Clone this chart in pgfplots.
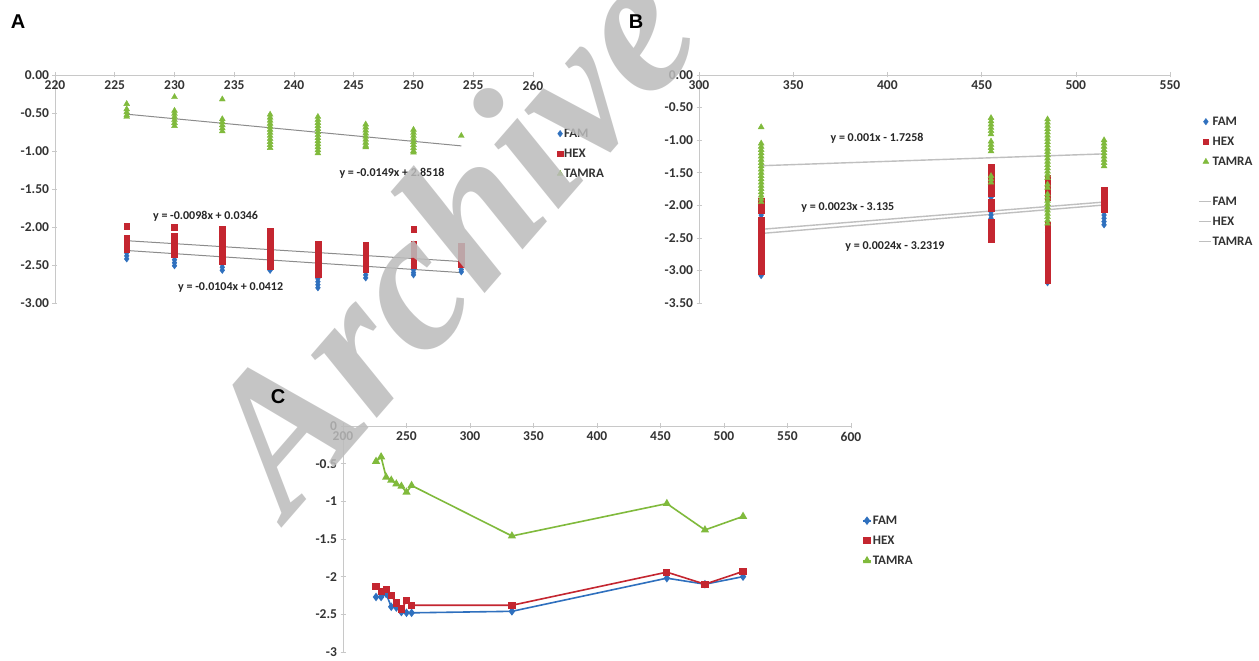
\documentclass[border=0pt]{standalone}
\usepackage{fontspec}
\setmainfont{Carlito}
\newfontfamily\arialfont{Liberation Sans}
\newfontfamily\wmfont{Liberation Serif}
\usepackage{pgfplots}
\pgfplotsset{compat=1.18}
\definecolor{famc}{RGB}{47,112,190}
\definecolor{hexc}{RGB}{196,38,48}
\definecolor{tamc}{RGB}{128,186,60}
\definecolor{axc}{RGB}{200,200,200}
\definecolor{wmc}{RGB}{188,188,188}
\newcommand{\lblfont}{\fontsize{13.5}{13.5}\selectfont\bfseries}
\newcommand{\legfont}{\fontsize{13}{13}\selectfont\bfseries}
\newcommand{\eqfont}{\fontsize{12}{12}\selectfont\bfseries}
\tikzset{eqn/.style={font=\eqfont, text=black!85}}
\pgfplotsset{
  excel/.style={
    scale only axis, anchor=south west,
    axis x line=middle, axis y line=left,
    axis line style={-, draw=axc, line width=0.8pt},
    every inner x axis line/.append style={-},
    every outer y axis line/.append style={-},
    hide obscured x ticks=false, hide obscured y ticks=false,
    tick style={draw=axc, line width=0.6pt},
    tick align=center, major tick length=5pt,
    ticklabel style={font=\lblfont, text=black!80},
    /pgf/number format/assume math mode=true,
    clip=false,
    legend style={draw=none, fill=none, inner sep=0pt, font=\legfont, text=black!80,
      row sep=7pt, nodes={inner sep=1pt, text height=9pt, text depth=2pt}},
    legend cell align=left,
    legend image code/.code={\draw[mark repeat=2,mark phase=2,##1] plot coordinates {(0pt,0pt) (4pt,0pt) (8pt,0pt)};},
  },
  famm/.style={only marks, mark=diamond*, mark size=3.2pt, color=famc},
  hexm/.style={only marks, mark=square*, mark size=2.8pt, color=hexc},
  tamm/.style={only marks, mark=triangle*, mark size=3.4pt, color=tamc},
  trendA/.style={draw=black!45, line width=1pt, mark=none, forget plot},
  trendB/.style={draw=black!25, line width=1.4pt, mark=none,
    legend image code/.code={\draw[##1] (-3pt,0pt) -- (9pt,0pt);}},
}
\begin{document}
\begin{tikzpicture}
\useasboundingbox (0pt,0pt) rectangle (1259pt,661pt);
\clip (0pt,0pt) rectangle (1259pt,661pt);
\fill[white] (0pt,0pt) rectangle (1259pt,661pt);

% ---------------- Panel A ----------------
\begin{axis}[excel, at={(55pt,358pt)}, width=478pt, height=228pt,
  xmin=220, xmax=260, xtick={220,225,...,260},
  ymin=-3, ymax=0, ytick={-3,-2.5,...,0},
  yticklabel style={/pgf/number format/.cd, fixed, fixed zerofill, precision=2},
  legend style={at={(1.0502,0.772)}, anchor=north west}]
\addplot[famm] coordinates {
(226,-2.30)(226,-2.34)(226,-2.38)(226,-2.42)
(230,-2.35)(230,-2.39)(230,-2.43)(230,-2.47)(230,-2.51)
(234,-2.45)(234,-2.49)(234,-2.53)(234,-2.57)
(238,-2.50)(238,-2.54)(238,-2.57)
(242,-2.60)(242,-2.64)(242,-2.68)(242,-2.72)(242,-2.76)(242,-2.80)
(246,-2.55)(246,-2.59)(246,-2.63)(246,-2.67)
(250,-2.48)(250,-2.52)(250,-2.56)(250,-2.60)(250,-2.63)
(254,-2.56)(254,-2.59)};
\addlegendentry{FAM}
\addplot[hexm] coordinates {
(226,-1.99)(226,-2.15)(226,-2.19)(226,-2.23)(226,-2.27)(226,-2.30)
(230,-2.00)(230,-2.12)(230,-2.16)(230,-2.20)(230,-2.24)(230,-2.28)(230,-2.32)(230,-2.36)
(234,-2.02)(234,-2.06)(234,-2.10)(234,-2.14)(234,-2.18)(234,-2.22)(234,-2.26)(234,-2.30)(234,-2.34)(234,-2.38)(234,-2.42)(234,-2.45)
(238,-2.05)(238,-2.09)(238,-2.13)(238,-2.17)(238,-2.21)(238,-2.25)(238,-2.29)(238,-2.33)(238,-2.37)(238,-2.41)(238,-2.45)(238,-2.49)(238,-2.52)
(242,-2.22)(242,-2.26)(242,-2.30)(242,-2.34)(242,-2.38)(242,-2.42)(242,-2.46)(242,-2.50)(242,-2.54)(242,-2.58)(242,-2.62)
(246,-2.24)(246,-2.28)(246,-2.32)(246,-2.36)(246,-2.40)(246,-2.44)(246,-2.48)(246,-2.52)(246,-2.56)
(250,-2.03)(250,-2.22)(250,-2.26)(250,-2.30)(250,-2.34)(250,-2.38)(250,-2.42)(250,-2.46)(250,-2.50)
(254,-2.25)(254,-2.29)(254,-2.33)(254,-2.37)(254,-2.41)(254,-2.45)(254,-2.49)};
\addlegendentry{HEX}
\addplot[tamm] coordinates {
(226,-0.38)(226,-0.45)(226,-0.49)(226,-0.53)(226,-0.55)
(230,-0.29)(230,-0.47)(230,-0.51)(230,-0.55)(230,-0.59)(230,-0.63)(230,-0.67)
(234,-0.32)(234,-0.58)(234,-0.62)(234,-0.66)(234,-0.70)(234,-0.74)
(238,-0.52)(238,-0.56)(238,-0.60)(238,-0.64)(238,-0.68)(238,-0.72)(238,-0.76)(238,-0.80)(238,-0.84)(238,-0.88)(238,-0.92)(238,-0.96)
(242,-0.55)(242,-0.59)(242,-0.63)(242,-0.67)(242,-0.71)(242,-0.75)(242,-0.79)(242,-0.83)(242,-0.87)(242,-0.91)(242,-0.95)(242,-0.99)(242,-1.03)
(246,-0.65)(246,-0.69)(246,-0.73)(246,-0.77)(246,-0.81)(246,-0.85)(246,-0.89)(246,-0.93)(246,-0.95)
(250,-0.72)(250,-0.76)(250,-0.80)(250,-0.84)(250,-0.88)(250,-0.92)(250,-0.96)(250,-1.00)(250,-1.02)
(254,-0.80)};
\addlegendentry{TAMRA}
\addplot[trendA] coordinates {(226,-0.5156)(254,-0.9328)};
\addplot[trendA] coordinates {(226,-2.1802)(254,-2.4546)};
\addplot[trendA] coordinates {(226,-2.3092)(254,-2.6004)};
\node[eqn] at (axis cs:248.2,-1.29) {y = -0.0149x + 2.8518};
\node[eqn] at (axis cs:232.6,-1.855) {y = -0.0098x + 0.0346};
\node[eqn] at (axis cs:234.7,-2.79) {y = -0.0104x + 0.0412};
\end{axis}

% ---------------- Panel B ----------------
\begin{axis}[excel, at={(699pt,358pt)}, width=471pt, height=228pt,
  xmin=300, xmax=550, xtick={300,350,...,550},
  ymin=-3.5, ymax=0, ytick={-3.5,-3,...,0},
  yticklabel style={/pgf/number format/.cd, fixed, fixed zerofill, precision=2},
  legend style={at={(1.0594,0.8246)}, anchor=north west}]
\addplot[famm] coordinates {
(333,-2.10)(333,-2.15)(333,-2.20)(333,-3.04)(333,-3.08)
(455,-1.88)(455,-2.10)(455,-2.15)(455,-2.20)
(485,-2.42)(485,-3.19)
(515,-2.10)(515,-2.15)(515,-2.20)(515,-2.25)(515,-2.30)};
\addlegendentry{FAM}
\addplot[hexm] coordinates {
(333,-1.93)(333,-1.98)(333,-2.03)(333,-2.08)(333,-2.22)(333,-2.27)(333,-2.32)(333,-2.37)(333,-2.42)(333,-2.47)(333,-2.52)(333,-2.57)(333,-2.62)(333,-2.67)(333,-2.72)(333,-2.77)(333,-2.82)(333,-2.87)(333,-2.92)(333,-2.97)(333,-3.02)
(455,-1.42)(455,-1.47)(455,-1.52)(455,-1.57)(455,-1.62)(455,-1.67)(455,-1.72)(455,-1.77)(455,-1.82)(455,-1.95)(455,-2.00)(455,-2.05)
(455,-2.25)(455,-2.30)(455,-2.35)(455,-2.40)(455,-2.45)(455,-2.50)(455,-2.53)
(485,-1.58)(485,-1.63)(485,-1.68)(485,-1.73)(485,-1.78)(485,-1.83)(485,-1.88)
(485,-2.30)(485,-2.35)(485,-2.46)(485,-2.51)(485,-2.56)(485,-2.61)(485,-2.66)(485,-2.71)(485,-2.76)(485,-2.81)(485,-2.86)(485,-2.91)(485,-2.96)(485,-3.01)(485,-3.06)(485,-3.11)(485,-3.15)
(515,-1.76)(515,-1.81)(515,-1.86)(515,-1.91)(515,-1.96)(515,-2.01)(515,-2.06)};
\addlegendentry{HEX}
\addplot[tamm] coordinates {
(333,-0.80)(333,-1.05)(333,-1.10)(333,-1.15)(333,-1.20)(333,-1.25)(333,-1.30)(333,-1.35)(333,-1.40)(333,-1.45)(333,-1.50)(333,-1.55)(333,-1.60)(333,-1.65)(333,-1.70)(333,-1.75)(333,-1.80)(333,-1.85)(333,-1.90)(333,-1.95)
(455,-0.66)(455,-0.71)(455,-0.76)(455,-0.81)(455,-0.86)(455,-0.91)(455,-1.02)(455,-1.07)(455,-1.12)(455,-1.17)(455,-1.55)(455,-1.60)(455,-1.65)
(485,-0.68)(485,-0.73)(485,-0.78)(485,-0.83)(485,-0.88)(485,-0.93)(485,-0.98)(485,-1.03)(485,-1.08)(485,-1.13)(485,-1.18)(485,-1.23)(485,-1.28)(485,-1.33)(485,-1.38)(485,-1.43)(485,-1.48)(485,-1.53)(485,-1.58)(485,-1.68)(485,-1.73)(485,-1.83)(485,-1.88)(485,-1.93)(485,-1.98)(485,-2.03)(485,-2.08)(485,-2.13)(485,-2.18)(485,-2.23)(485,-2.28)
(515,-1.00)(515,-1.05)(515,-1.10)(515,-1.15)(515,-1.20)(515,-1.25)(515,-1.30)(515,-1.35)(515,-1.40)};
\addlegendentry{TAMRA}
\addlegendimage{empty legend}\addlegendentry{}
\addlegendimage{trendB}\addlegendentry{FAM}
\addlegendimage{trendB}\addlegendentry{HEX}
\addlegendimage{trendB}\addlegendentry{TAMRA}
\addplot[trendB, forget plot] coordinates {(333,-1.3928)(515,-1.2108)};
\addplot[trendB, forget plot] coordinates {(333,-2.3691)(515,-1.9505)};
\addplot[trendB, forget plot] coordinates {(333,-2.4327)(515,-1.9959)};
\node[eqn] at (axis cs:394.5,-0.97) {y = 0.001x - 1.7258};
\node[eqn] at (axis cs:379,-2.03) {y = 0.0023x - 3.135};
\node[eqn] at (axis cs:404,-2.63) {y = 0.0024x - 3.2319};
\end{axis}

% ---------------- Panel C ----------------
\begin{axis}[excel, at={(343pt,9pt)}, width=508pt, height=226pt,
  xmin=200, xmax=600, xtick={200,250,...,600},
  ymin=-3, ymax=0, ytick={-3,-2.5,...,0},
  legend style={at={(1.0217,0.6106)}, anchor=north west}]
\addplot[color=famc, line width=1.6pt, mark=diamond*, mark size=3pt] coordinates {
(226,-2.27)(230,-2.27)(234,-2.23)(238,-2.40)(242,-2.41)(246,-2.47)(250,-2.48)(254,-2.48)(333,-2.46)(455,-2.02)(485,-2.10)(515,-2.00)};
\addlegendentry{FAM}
\addplot[color=hexc, line width=1.6pt, mark=square*, mark size=2.8pt] coordinates {
(226,-2.13)(230,-2.20)(234,-2.17)(238,-2.25)(242,-2.35)(246,-2.43)(250,-2.32)(254,-2.38)(333,-2.38)(455,-1.94)(485,-2.10)(515,-1.93)};
\addlegendentry{HEX}
\addplot[color=tamc, line width=1.6pt, mark=triangle*, mark size=3.2pt] coordinates {
(226,-0.47)(230,-0.41)(234,-0.68)(238,-0.72)(242,-0.77)(246,-0.80)(250,-0.88)(254,-0.79)(333,-1.46)(455,-1.03)(485,-1.38)(515,-1.20)};
\addlegendentry{TAMRA}
\end{axis}

% watermark
\node[rotate=49, anchor=base west, inner sep=0pt, text=wmc, opacity=0.85,
  font=\wmfont\bfseries\itshape\fontsize{198}{198}\selectfont] at (288pt,140pt) {Archive of SID};

% panel letters
\node[font=\arialfont\bfseries\fontsize{20}{20}\selectfont] at (18pt,639pt) {A};
\node[font=\arialfont\bfseries\fontsize{20}{20}\selectfont] at (636pt,639pt) {B};
\node[font=\arialfont\bfseries\fontsize{20}{20}\selectfont] at (278pt,264pt) {C};
\end{tikzpicture}
\end{document}
